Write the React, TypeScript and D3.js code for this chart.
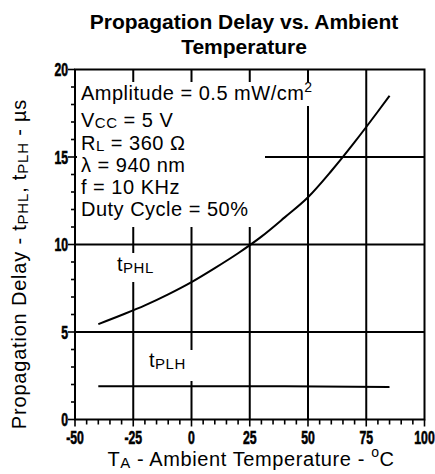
import React from 'react'
import * as d3 from 'd3'

const temps = [-40, -30, -20, -10, 0, 10, 20, 30, 40, 50, 60, 70, 80, 85]
const tphl = [5.45, 5.97, 6.52, 7.15, 7.85, 8.65, 9.5, 10.45, 11.55, 12.7, 14.2, 15.85, 17.6, 18.5]
const tplhTemps = [-40, 0, 40, 85]
const tplh = [1.9, 1.9, 1.9, 1.85]

const xTicks = [-50, -25, 0, 25, 50, 75, 100]
const yTicks = [0, 5, 10, 15, 20]
const notes = ['V', 'R', 'λ = 940 nm', 'f = 10 KHz', 'Duty Cycle = 50%']

const W = 435,
  H = 474
const font = 'Liberation Sans, Arial, Helvetica, sans-serif'

export default function App() {
  const x = d3.scaleLinear().domain([-50, 100]).range([75, 424.5])
  const y = d3.scaleLinear().domain([0, 20]).range([419.5, 69.5])

  const line = d3
    .line<[number, number]>()
    .x(d => x(d[0]))
    .y(d => y(d[1]))
    .curve(d3.curveMonotoneX)

  const phlPts = temps.map((t, i) => [t, tphl[i]] as [number, number])
  const plhPts = tplhTemps.map((t, i) => [t, tplh[i]] as [number, number])

  const xMinor = d3.range(-50, 101, 5)
  const yMinor = d3.range(0, 21, 1)

  // condensed bold tick labels
  const tickText = (v: number, tx: number, ty: number, anchor: string) => (
    <text
      key={'t' + anchor + v}
      transform={`translate(${tx},${ty}) scale(0.68,1)`}
      textAnchor={anchor}
      fontFamily={font}
      fontWeight="bold"
      fontSize={18}
      stroke="#000"
      strokeWidth={0.6}
    >
      {v}
    </text>
  )

  return (
    <svg
      width={W}
      height={H}
      style={{ position: 'absolute', left: 0, top: 0, background: '#fff' }}
    >
      <rect width={W} height={H} fill="#fff" />

      {/* title */}
      <text x={244} y={29} textAnchor="middle" fontFamily={font} fontWeight="bold" fontSize={21}>
        Propagation Delay vs. Ambient
      </text>
      <text x={244} y={54} textAnchor="middle" fontFamily={font} fontWeight="bold" fontSize={21}>
        Temperature
      </text>

      {/* grid */}
      <g stroke="#000" strokeWidth={2}>
        {xTicks.slice(1, -1).map(t => (
          <line key={'gx' + t} x1={x(t)} x2={x(t)} y1={y(20)} y2={y(0)} />
        ))}
        {yTicks.slice(1, -1).map(v => (
          <line key={'gy' + v} x1={x(-50)} x2={x(100)} y1={y(v)} y2={y(v)} />
        ))}
      </g>

      {/* white boxes behind the labels */}
      <g fill="#fff">
        <rect x={77} y={82} width={241} height={24} />
        <rect x={77} y={105} width={188} height={122} />
        <rect x={113} y={253} width={46} height={29} />
        <rect x={145} y={350} width={50} height={31} />
      </g>

      {/* frame */}
      <g stroke="#000" strokeWidth={2} fill="none">
        <rect x={x(-50)} y={y(20)} width={x(100) - x(-50)} height={y(0) - y(20)} />
      </g>

      {/* ticks */}
      <g stroke="#000" strokeWidth={1.6}>
        {xMinor.map(t => (
          <line key={'xm' + t} x1={x(t)} x2={x(t)} y1={y(0)} y2={y(0) + (t % 25 === 0 ? 7 : 5)} />
        ))}
        {yMinor.map(v => (
          <line key={'ym' + v} x1={x(-50) - (v % 5 === 0 ? 7 : 4)} x2={x(-50)} y1={y(v)} y2={y(v)} />
        ))}
      </g>
      {xTicks.map(t => tickText(t, x(t), 444, 'middle'))}
      {yTicks.map(v => tickText(v, 68, y(v) + 6.5, 'end'))}

      {/* curves */}
      <path d={line(phlPts) || ''} fill="none" stroke="#000" strokeWidth={2} />
      <path d={line(plhPts) || ''} fill="none" stroke="#000" strokeWidth={2} />

      {/* conditions */}
      <g fontFamily={font} fontSize={20} fill="#000" letterSpacing={0.5}>
        <text x={81} y={100}>
          Amplitude = 0.5 mW/cm<tspan fontSize={14} dy={-8}>2</tspan>
        </text>
        <text x={81} y={127}>
          {notes[0]}
          <tspan fontSize={15} dy={1}>CC</tspan>
          <tspan dy={-1}> = 5 V</tspan>
        </text>
        <text x={81} y={150}>
          {notes[1]}
          <tspan fontSize={15} dy={1}>L</tspan>
          <tspan dy={-1}> = 360 Ω</tspan>
        </text>
        <text x={81} y={172}>{notes[2]}</text>
        <text x={81} y={193.5}>{notes[3]}</text>
        <text x={81} y={215.5}>{notes[4]}</text>

        <text x={117} y={271}>
          t<tspan fontSize={15} dy={2}>PHL</tspan>
        </text>
        <text x={149} y={367}>
          t<tspan fontSize={15} dy={2}>PLH</tspan>
        </text>
      </g>

      {/* axis titles */}
      <text
        x={251}
        y={466}
        textAnchor="middle"
        fontFamily={font}
        fontSize={20}
        letterSpacing={0.6}
      >
        T<tspan fontSize={15} dy={2}>A</tspan>
        <tspan dy={-2}> - Ambient Temperature - </tspan>
        <tspan fontSize={14} dy={-9}>o</tspan>
        <tspan dy={9}>C</tspan>
      </text>
      <text
        transform="translate(26,264) rotate(-90)"
        textAnchor="middle"
        fontFamily={font}
        fontSize={20}
        letterSpacing={0.8}
      >
        Propagation Delay - t<tspan fontSize={15} dy={2}>PHL</tspan>
        <tspan dy={-2}>, t</tspan>
        <tspan fontSize={15} dy={2}>PLH</tspan>
        <tspan dy={-2}> - µs</tspan>
      </text>
    </svg>
  )
}
